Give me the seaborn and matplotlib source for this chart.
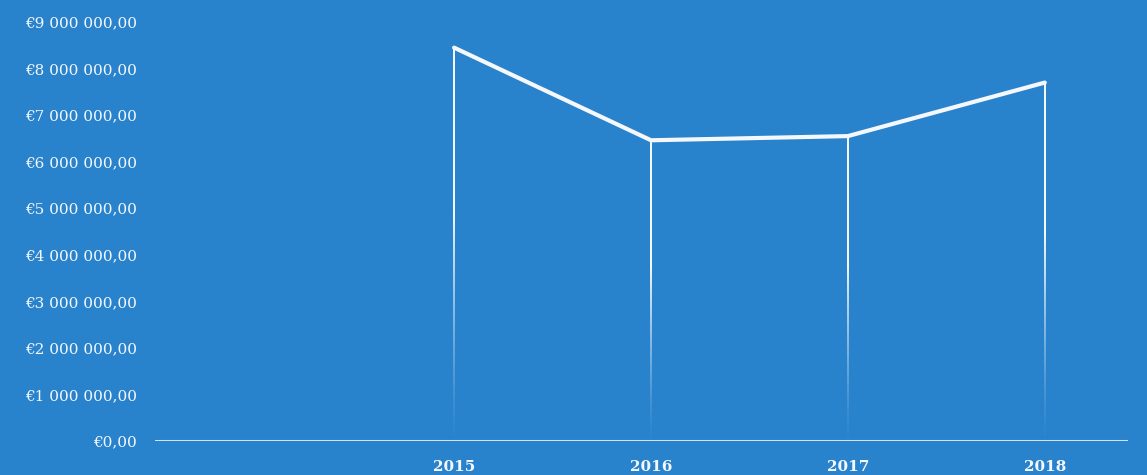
import numpy as np
import pandas as pd
import matplotlib
matplotlib.use("Agg")
import matplotlib.pyplot as plt
import matplotlib.colors as mcolors
import seaborn as sns

# Annual totals in euros
years = ["2015", "2016", "2017", "2018"]
totals = [8450000, 6460000, 6550000, 7700000]
y_ticks = [0, 1e6, 2e6, 3e6, 4e6, 5e6, 6e6, 7e6, 8e6, 9e6]

BG = "#2882cc"
FG = "#f4f8fc"

sns.set_theme(style="white")
plt.rcParams["font.family"] = ["DejaVu Serif", "Liberation Serif"]

fig = plt.figure(figsize=(11.47, 4.75), dpi=100, facecolor=BG)
ax = fig.add_axes([0.135, 0.0716, 0.848, 0.882], facecolor=BG)

df = pd.DataFrame({"pos": np.arange(len(years)), "total": totals})

xlim = (-1.52, 3.42)
ax.set_xlim(*xlim)
ax.set_ylim(0, 9e6)

# Drop lines from each point to the baseline, fading out towards the bottom
px = (xlim[1] - xlim[0]) / (0.848 * 1147)   # data units per pixel
half_w = 1.0 * px
rgb = mcolors.to_rgb(FG)
n = 256
t = np.linspace(0, 1, n)                      # 0 = bottom, 1 = top
alpha = np.clip(0.04 + t / 0.6, 0, 1) ** 1.4
grad = np.zeros((n, 1, 4))
grad[:, 0, :3] = rgb
grad[:, 0, 3] = alpha
for x, v in zip(df["pos"], df["total"]):
    ax.imshow(grad, extent=[x - half_w, x + half_w, 0, v], origin="lower",
              aspect="auto", interpolation="bilinear", zorder=3)
ax.set_xlim(*xlim)
ax.set_ylim(0, 9e6)

sns.lineplot(data=df, x="pos", y="total", color=FG, lw=3.0, ax=ax, zorder=5)

# Baseline
ax.axhline(0, color="#cfe3f5", lw=2.2, zorder=4)

ax.set_xticks(df["pos"])
ax.set_xticklabels(years)
ax.set_yticks(y_ticks)
ax.set_yticklabels(
    ["€0,00"] + [f"€{int(t/1e6)} 000 000,00" for t in y_ticks[1:]]
)
ax.tick_params(axis="y", colors=FG, labelsize=11, length=0, pad=13)
ax.tick_params(axis="x", colors=FG, labelsize=11, length=0, pad=14)
for lab in ax.get_xticklabels():
    lab.set_fontweight("bold")
ax.set_xlabel("")
ax.set_ylabel("")
for s in ax.spines.values():
    s.set_visible(False)
ax.grid(False)

fig.savefig("out.png", dpi=100, facecolor=BG)
